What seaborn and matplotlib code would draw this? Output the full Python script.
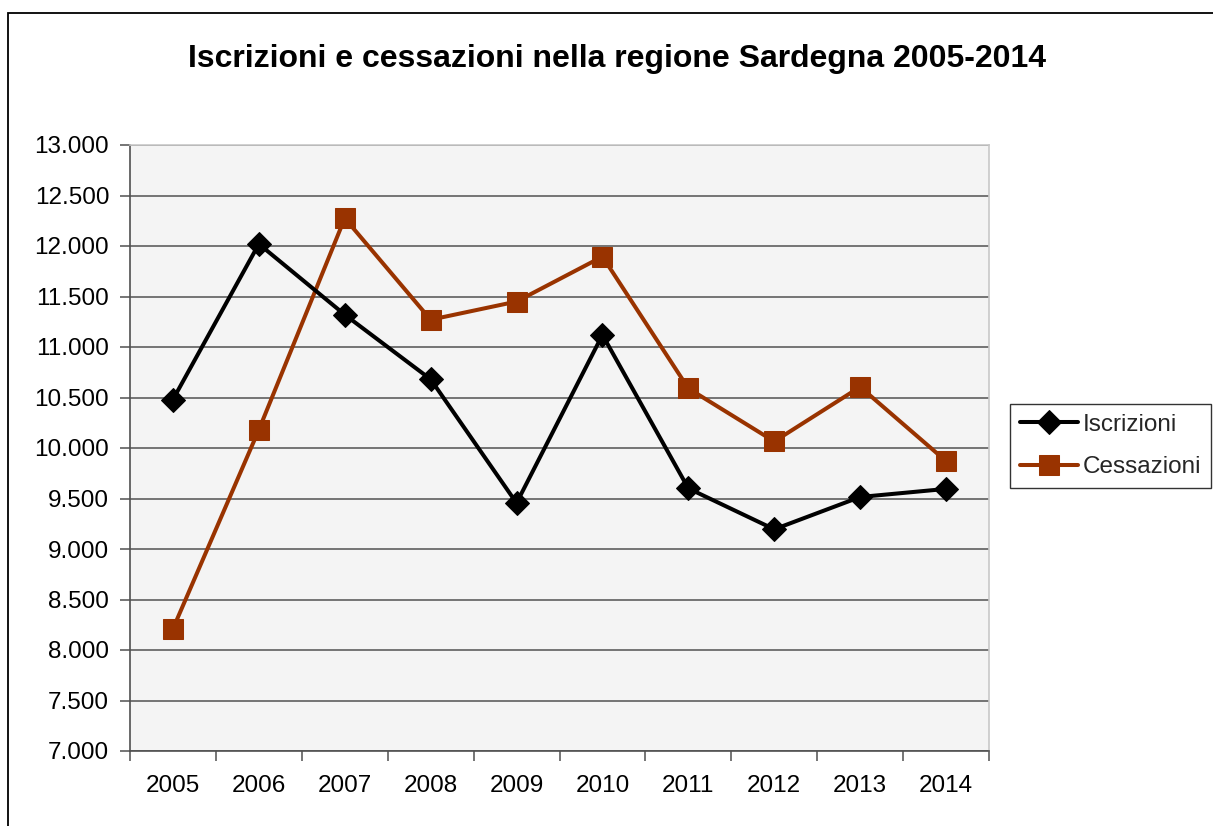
import matplotlib
matplotlib.use("Agg")
import matplotlib.pyplot as plt
import matplotlib.patches as mpatches
import seaborn as sns
import pandas as pd
import numpy as np
from matplotlib.ticker import FuncFormatter, FixedLocator

years = ["2005", "2006", "2007", "2008", "2009", "2010", "2011", "2012", "2013", "2014"]
iscrizioni = [10480, 12020, 11320, 10680, 9455, 11120, 9600, 9195, 9515, 9595]
cessazioni = [8210, 10180, 12275, 11270, 11450, 11895, 10590, 10065, 10605, 9870]
title = "Iscrizioni e cessazioni nella regione Sardegna 2005-2014"
y_ticks = [7000, 7500, 8000, 8500, 9000, 9500, 10000, 10500, 11000, 11500, 12000, 12500, 13000]

sns.set_theme(style="white")
plt.rcParams['font.family'] = ['Liberation Sans', 'DejaVu Sans']

W, H = 1213, 826
fig = plt.figure(figsize=(W / 100, H / 100), dpi=100)
fig.patch.set_facecolor("white")

# outer chart frame
frame = mpatches.Rectangle((8 / W, -0.5), 2.0, (H - 13) / H + 0.5,
                           transform=fig.transFigure, fill=False,
                           edgecolor="black", linewidth=1.3, clip_on=False)
fig.patches.append(frame)

ax = fig.add_axes([130 / W, (H - 751) / H, (989 - 130) / W, (751 - 145) / H])
ax.set_facecolor("#f4f4f4")

x = np.arange(len(years))
df_i = pd.DataFrame({"x": x, "v": iscrizioni})
df_c = pd.DataFrame({"x": x, "v": cessazioni})

sns.lineplot(data=df_i, x="x", y="v", ax=ax, color="black", linewidth=2.9,
             marker="D", markersize=12.5, markeredgecolor="black",
             label="Iscrizioni", zorder=4)
sns.lineplot(data=df_c, x="x", y="v", ax=ax, color="#993300", linewidth=2.9,
             marker="s", markersize=14, markeredgecolor="#993300",
             label="Cessazioni", zorder=3)

ax.set_xlim(-0.5, len(years) - 0.5)
ax.set_ylim(7000, 13000)
ax.set_yticks(y_ticks)
ax.yaxis.set_major_formatter(FuncFormatter(lambda v, p: f"{v:,.0f}".replace(",", ".")))
ax.set_xticks(x)
ax.set_xticklabels(years)
ax.xaxis.set_minor_locator(FixedLocator(np.arange(-0.5, len(years), 1.0)))
ax.set_xlabel("")
ax.set_ylabel("")

ax.grid(axis="y", color="#6a6a6a", linewidth=1.3)
ax.set_axisbelow(True)
ax.tick_params(axis="x", which="major", length=0, pad=17, labelsize=17.5, colors="black")
ax.tick_params(axis="x", which="minor", length=7, width=1.1, color="#505050", direction="out")
ax.tick_params(axis="y", which="major", length=7, width=1.1, color="#505050",
               direction="out", pad=8, labelsize=17.5, labelcolor="black")
ax.tick_params(axis="x", which="both", bottom=True)
ax.tick_params(axis="y", left=True)

for s in ["left", "bottom"]:
    ax.spines[s].set_color("#505050")
    ax.spines[s].set_linewidth(1.2)
for s in ["top", "right"]:
    ax.spines[s].set_color("#c8c8c8")
    ax.spines[s].set_linewidth(1.2)

fig.text(617 / W, 1 - 59 / H, title, ha="center", va="center",
         fontsize=23, fontweight="bold", color="black")

leg = ax.legend(loc="upper left", bbox_to_anchor=(1010 / W, 1 - 404 / H),
                bbox_transform=fig.transFigure, frameon=True, fancybox=False,
                fontsize=17.5, handlelength=2.4, handletextpad=0.2,
                labelspacing=0.85, borderpad=0.4, borderaxespad=0.0)
leg.get_frame().set_edgecolor("black")
leg.get_frame().set_linewidth(1.0)
leg.get_frame().set_facecolor("white")

fig.savefig("out.png", dpi=100, facecolor="white")
